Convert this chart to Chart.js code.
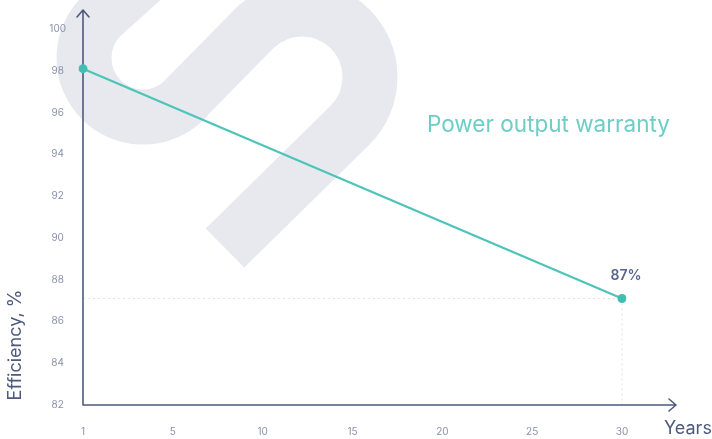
<!DOCTYPE html>
<html>
<head>
<meta charset="utf-8">
<script src="https://cdn.jsdelivr.net/npm/chart.js@4"></script>
<style>
  html, body { margin: 0; padding: 0; background: #fff; }
  canvas { display: block; }
</style>
</head>
<body>
<canvas id="warrantyChart" width="712" height="439"></canvas>
<script>
const years = ['1', '5', '10', '15', '20', '25', '30'];
const efficiency = [98.1, null, null, null, null, null, 87.1];
const yTicks = [82, 84, 86, 88, 90, 92, 94, 96, 98, 100];
const endLabel = '87%';
const seriesTitle = 'Power output warranty';

const axisColor = '#4d5a7e';
const tealLine = '#4cc4b8';
const tickColor = '#8a92ab';

// light grey "S" mark behind the plot
function drawWatermark(ctx) {
    ctx.save();
    ctx.strokeStyle = '#e7e9ef';
    ctx.lineWidth = 55;
    ctx.lineCap = 'butt';
    ctx.beginPath();
    ctx.moveTo(225, 248);
    ctx.arc(302, 77, 68, Math.PI / 4, -3 * Math.PI / 4, true);
    ctx.lineTo(185, 99);
    ctx.arc(143, 58, 59, Math.PI / 4, 5 * Math.PI / 4, false);
    ctx.lineTo(175, -50);
    ctx.stroke();
    ctx.restore();
}

const decorPlugin = {
    id: 'decor',
    beforeDraw(chart) {
        const ctx = chart.ctx;
        drawWatermark(ctx);

        // dotted guides to the last point
        const x = chart.scales.x, y = chart.scales.y;
        const last = efficiency.length - 1;
        const px = x.getPixelForValue(last);
        const py = y.getPixelForValue(efficiency[last]);
        ctx.save();
        ctx.strokeStyle = '#dfe2ea';
        ctx.lineWidth = 1;
        ctx.setLineDash([2, 3]);
        ctx.beginPath();
        ctx.moveTo(chart.chartArea.left, py);
        ctx.lineTo(px, py);
        ctx.moveTo(px, py);
        ctx.lineTo(px, chart.chartArea.bottom);
        ctx.stroke();
        ctx.restore();
    },
    beforeDatasetsDraw(chart) {
        const ctx = chart.ctx;
        const a = chart.chartArea;
        ctx.save();
        ctx.strokeStyle = axisColor;
        ctx.lineWidth = 1.6;
        ctx.lineCap = 'round';
        ctx.lineJoin = 'round';
        ctx.beginPath();
        ctx.moveTo(a.left, 11);
        ctx.lineTo(a.left, a.bottom);
        ctx.lineTo(676, a.bottom);
        // arrow heads
        ctx.moveTo(a.left - 6, 17);
        ctx.lineTo(a.left, 10);
        ctx.lineTo(a.left + 6, 17);
        ctx.moveTo(669, a.bottom - 6);
        ctx.lineTo(676, a.bottom);
        ctx.lineTo(669, a.bottom + 6);
        ctx.stroke();
        ctx.restore();
    },
    afterDraw(chart) {
        const ctx = chart.ctx;
        const x = chart.scales.x, y = chart.scales.y;
        const last = efficiency.length - 1;
        const px = x.getPixelForValue(last);
        const py = y.getPixelForValue(efficiency[last]);
        ctx.save();
        ctx.textAlign = 'center';
        ctx.textBaseline = 'middle';
        ctx.fillStyle = '#56658a';
        ctx.font = '600 14px Inter, "Noto Sans", sans-serif';
        ctx.fillText(endLabel, px + 4, py - 23);

        ctx.fillStyle = '#6ccec5';
        ctx.font = '22.5px Inter, "Noto Sans", sans-serif';
        ctx.textAlign = 'left';
        ctx.fillText(seriesTitle, 427, 125);

        ctx.fillStyle = axisColor;
        ctx.font = '18px Inter, "Noto Sans", sans-serif';
        ctx.fillText('Years', 664, 429);

        ctx.translate(16, 345);
        ctx.rotate(-Math.PI / 2);
        ctx.textAlign = 'center';
        ctx.fillText('Efficiency, %', 0, 0);
        ctx.restore();
    }
};

new Chart(document.getElementById('warrantyChart'), {
    type: 'line',
    data: {
        labels: years,
        datasets: [{
            label: seriesTitle,
            data: efficiency,
            spanGaps: true,
            borderColor: tealLine,
            borderWidth: 2.2,
            pointRadius: 4.5,
            pointBackgroundColor: '#3fbfb2',
            pointBorderWidth: 0,
            tension: 0
        }]
    },
    options: {
        responsive: false,
        animation: false,
        layout: { padding: { top: 29, right: 90, bottom: 0, left: 0 } },
        plugins: { legend: { display: false }, tooltip: { enabled: false } },
        scales: {
            x: {
                offset: false,
                grid: { display: false, drawTicks: false },
                border: { display: false },
                ticks: {
                    color: tickColor,
                    font: { family: 'Inter, "Noto Sans", sans-serif', size: 10 },
                    padding: 21,
                    autoSkip: false,
                    maxRotation: 0
                },
                afterFit(scale) { scale.height = 34; }
            },
            y: {
                min: 82,
                max: 100,
                grid: { display: false, drawTicks: false },
                border: { display: false },
                afterBuildTicks(scale) { scale.ticks = yTicks.map(v => ({ value: v })); },
                ticks: {
                    color: tickColor,
                    font: { family: 'Inter, "Noto Sans", sans-serif', size: 10 },
                    padding: 17,
                    crossAlign: 'center'
                },
                afterFit(scale) { scale.width = 83; }
            }
        }
    },
    plugins: [decorPlugin]
});
</script>
</body>
</html>
